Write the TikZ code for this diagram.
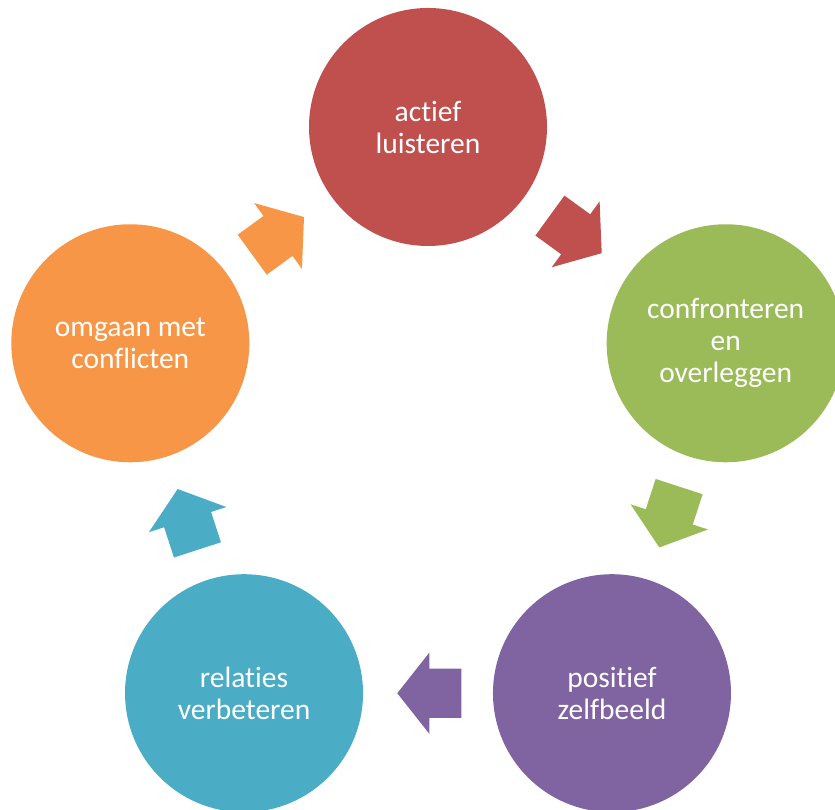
\documentclass[tikz,border=0pt]{standalone}
\usepackage{fontspec}
\setmainfont{Carlito}[Ligatures=NoCommon]
\usetikzlibrary{calc,shapes.arrows}
\definecolor{rood}{HTML}{C0504D}
\definecolor{groen}{HTML}{9BBB59}
\definecolor{paars}{HTML}{8064A2}
\definecolor{blauw}{HTML}{4BACC6}
\definecolor{oranje}{HTML}{F79646}
\tikzset{
  stap/.style={circle,fill=#1,minimum size=238pt,inner sep=0pt,text=white,align=center,font=\fontsize{29.5}{32}\selectfont},
  pijl/.style={single arrow,fill=#1,minimum height=64pt,minimum width=81pt,inner xsep=0pt,inner ysep=24.5pt,single arrow head extend=16pt,single arrow tip angle=103.4,pos=0.47,sloped,allow upside down}
}
\begin{document}
\begin{tikzpicture}[x=1pt,y=1pt]
\clip (0,0) rectangle (835,810);
\coordinate (m) at (428,370);
\node[stap=rood] (luisteren) at ($(m)+(90:313)$) {actief\\luisteren};
\node[stap=groen] (confronteren) at ($(m)+(18:313)$) {confronteren\\en\\overleggen};
\node[stap=paars] (zelfbeeld) at ($(m)+(-54:313)$) {positief\\zelfbeeld};
\node[stap=blauw] (relaties) at ($(m)+(-126:313)$) {relaties\\verbeteren};
\node[stap=oranje] (conflicten) at ($(m)+(162:313)$) {omgaan met\\conflicten};
\path (luisteren.center) -- node[pijl=rood] (p1) {} (confronteren.center);
\path (confronteren.center) -- node[pijl=groen] (p2) {} (zelfbeeld.center);
\path (zelfbeeld.center) -- node[pijl=paars] (p3) {} (relaties.center);
\path (relaties.center) -- node[pijl=blauw] (p4) {} (conflicten.center);
\path (conflicten.center) -- node[pijl=oranje] (p5) {} (luisteren.center);
\end{tikzpicture}
\end{document}
